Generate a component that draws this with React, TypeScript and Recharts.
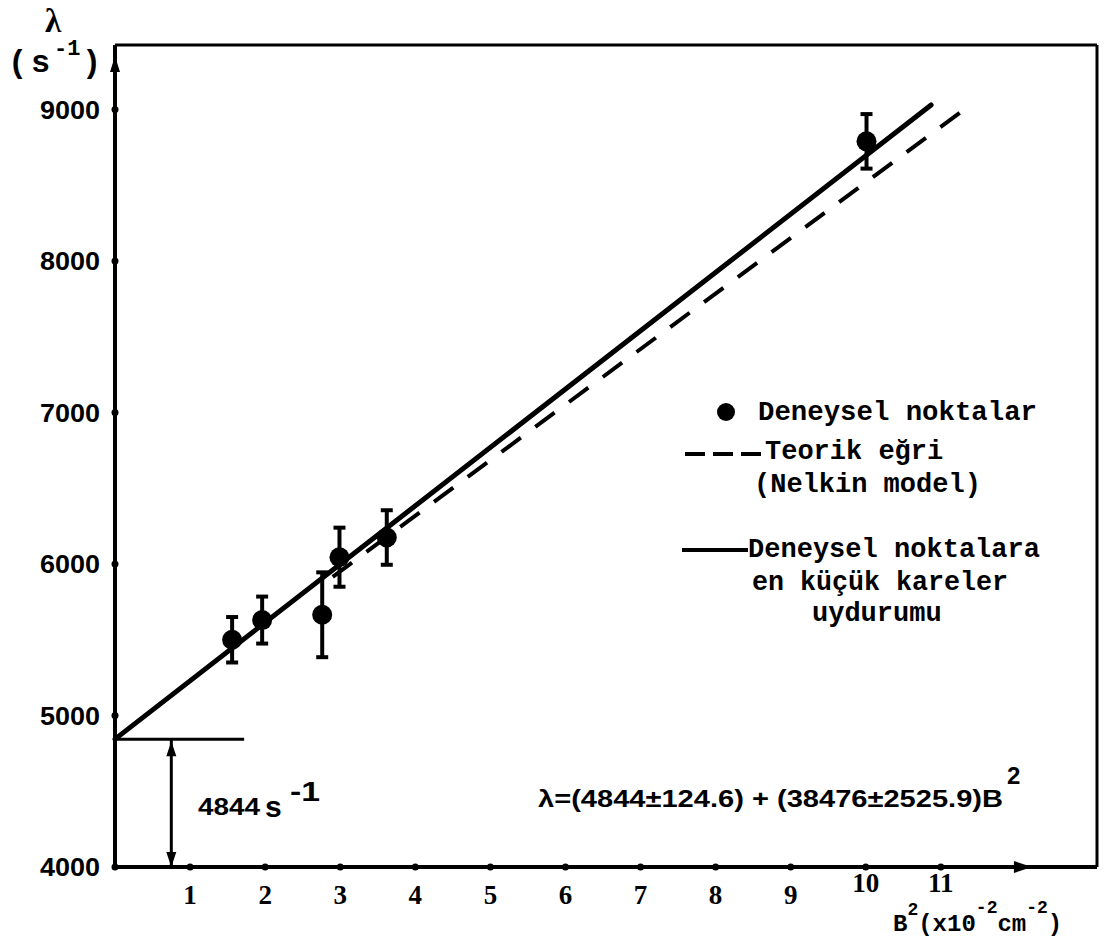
import { ComposedChart, XAxis, YAxis, Scatter, ErrorBar, ReferenceLine, ReferenceDot } from 'recharts';

// measured points: B^2 (x10^-2 cm^-2) vs decay constant lambda (s^-1)
const b2 = [1.56, 1.96, 2.76, 2.99, 3.62, 10.01];
const lambda = [5500, 5630, 5665, 6045, 6175, 8790];
const lambdaErr = [150, 155, 280, 195, 180, 180];

const xTicks = [1, 2, 3, 4, 5, 6, 7, 8, 9, 10, 11];
const yTicks = [4000, 5000, 6000, 7000, 8000, 9000];

// least squares fit and Nelkin model (end points)
const fitLine = [{ x: 0, y: 4844 }, { x: 10.87, y: 9030 }];
const theoryLine = [{ x: 2.9, y: 5915 }, { x: 11.27, y: 8985 }];

const intercept = 4844;
const interceptBarEnd = 1.72;
const interceptArrowX = 0.75;

const X_MAX = 13.08;
const Y_MIN = 4000;
const Y_MAX = 9426;
const Y_ARROW = 9294;
const X_ARROW = 12.08;

const points = b2.map((x, i) => ({ x, y: lambda[i], err: lambdaErr[i] }));

const mono = '"Liberation Mono", "DejaVu Sans Mono", monospace';
const sans = '"Liberation Sans", Arial, sans-serif';
const serif = '"Liberation Serif", "DejaVu Serif", serif';

const XTick = ({ x, y, payload }: any) => {
  const high = payload.value >= 10;
  return (
    <g>
      <circle cx={x} cy={y} r={3.5} fill="#000" />
      <text x={x} y={y + (high ? 25 : 37)} textAnchor="middle" fontFamily={serif} fontWeight="bold" fontSize={27} fill="#000">
        {payload.value}
      </text>
    </g>
  );
};

const YTick = ({ x, y, payload }: any) => (
  <g>
    <circle cx={x} cy={y} r={3.5} fill="#000" />
    <text x={x - 75} y={y + 9} fontFamily={sans} fontWeight="bold" fontSize={26} fill="#000" textLength={60} lengthAdjust="spacingAndGlyphs">
      {payload.value}
    </text>
  </g>
);

const arrowUp = (p: any) => <path d={`M${p.cx},${p.cy - 9} L${p.cx - 5},${p.cy + 7} L${p.cx + 5},${p.cy + 7} Z`} fill="#000" />;
const arrowDown = (p: any) => <path d={`M${p.cx},${p.cy} L${p.cx - 5},${p.cy - 15} L${p.cx + 5},${p.cy - 15} Z`} fill="#000" />;
const arrowUpFromLine = (p: any) => <path d={`M${p.cx},${p.cy + 2} L${p.cx - 5},${p.cy + 17} L${p.cx + 5},${p.cy + 17} Z`} fill="#000" />;
const arrowRight = (p: any) => <path d={`M${p.cx + 10},${p.cy} L${p.cx - 8},${p.cy - 6} L${p.cx - 8},${p.cy + 6} Z`} fill="#000" />;

function Annotations() {
  const t = { fontFamily: mono, fontWeight: 'bold' as const, fill: '#000' };
  return (
    <svg width={1105} height={939} style={{ position: 'absolute', left: 0, top: 0, pointerEvents: 'none' }}>
      {/* y axis title */}
      <text x={45} y={32} fontFamily={serif} fontWeight="bold" fontSize={33} fill="#000">λ</text>
      <text x={8} y={72} fontSize={32} {...t}>(</text>
      <text x={31} y={72} fontSize={32} {...t}>s</text>
      <text x={54} y={55} fontSize={22} {...t}>-1</text>
      <text x={82} y={72} fontSize={32} {...t}>)</text>

      {/* x axis title */}
      <text x={893} y={931} fontSize={24} {...t}>
        B<tspan dy={-16} fontSize={18}>2</tspan>
        <tspan dy={16}>(x10</tspan>
        <tspan dy={-18} fontSize={18}>-2</tspan>
        <tspan dy={18}>cm</tspan>
        <tspan dy={-18} fontSize={18}>-2</tspan>
        <tspan dy={18}>)</tspan>
      </text>

      {/* intercept label */}
      <text x={198} y={815} fontFamily={sans} fontWeight="bold" fontSize={24} fill="#000" textLength={62} lengthAdjust="spacingAndGlyphs">4844</text>
      <text x={265} y={817} fontFamily={sans} fontWeight="bold" fontSize={30} fill="#000">s</text>
      <text x={290} y={801} fontFamily={sans} fontWeight="bold" fontSize={28} fill="#000" textLength={30} lengthAdjust="spacingAndGlyphs">-1</text>

      {/* fit equation */}
      <text x={538} y={807} fontFamily={sans} fontWeight="bold" fontSize={24} fill="#000" textLength={465} lengthAdjust="spacingAndGlyphs">
        λ=(4844±124.6) + (38476±2525.9)B
      </text>
      <text x={1007} y={784} fontFamily={sans} fontWeight="bold" fontSize={24} fill="#000">2</text>

      {/* legend */}
      <circle cx={726} cy={412} r={9} fill="#000" />
      <text x={758} y={420} fontSize={27} textLength={279} lengthAdjust="spacingAndGlyphs" {...t}>Deneysel noktalar</text>
      <line x1={685} y1={454} x2={761} y2={454} stroke="#000" strokeWidth={4} strokeDasharray="20 8" />
      <text x={765} y={459} fontSize={27} {...t}>Teorik eğri</text>
      <text x={754} y={492} fontSize={27} {...t}>(Nelkin model)</text>
      <line x1={682} y1={550} x2={748} y2={550} stroke="#000" strokeWidth={4} />
      <text x={748} y={557} fontSize={27} textLength={292} lengthAdjust="spacingAndGlyphs" {...t}>Deneysel noktalara</text>
      <text x={752} y={590} fontSize={27} textLength={256} lengthAdjust="spacingAndGlyphs" {...t}>en küçük kareler</text>
      <text x={812} y={621} fontSize={27} {...t}>uydurumu</text>
    </svg>
  );
}

export default function App() {
  return (
    <div style={{ position: 'absolute', left: 0, top: 0, width: 1105, height: 939, background: '#fff' }}>
      <ComposedChart width={1105} height={939} margin={{ top: 45, right: 8, bottom: 0, left: 0 }}>
        <XAxis
          type="number"
          dataKey="x"
          domain={[0, X_MAX]}
          ticks={xTicks}
          tick={<XTick />}
          tickSize={0}
          tickMargin={0}
          tickLine={false}
          axisLine={{ stroke: '#000', strokeWidth: 4 }}
          height={72}
          allowDataOverflow
        />
        <YAxis
          type="number"
          dataKey="y"
          domain={[Y_MIN, Y_MAX]}
          ticks={yTicks}
          tick={<YTick />}
          tickSize={0}
          tickMargin={0}
          tickLine={false}
          axisLine={{ stroke: '#000', strokeWidth: 4 }}
          width={115}
          allowDataOverflow
        />

        {/* frame */}
        <ReferenceLine y={Y_MAX} stroke="#000" strokeWidth={3} />
        <ReferenceLine x={X_MAX} stroke="#000" strokeWidth={3} />

        {/* axis arrows */}
        <ReferenceDot x={0} y={Y_ARROW} shape={arrowUp} ifOverflow="visible" />
        <ReferenceDot x={X_ARROW} y={Y_MIN} shape={arrowRight} ifOverflow="visible" />

        {/* intercept marker */}
        <ReferenceLine segment={[{ x: 0, y: intercept }, { x: interceptBarEnd, y: intercept }]} stroke="#000" strokeWidth={3} ifOverflow="visible" />
        <ReferenceLine segment={[{ x: interceptArrowX, y: intercept }, { x: interceptArrowX, y: Y_MIN }]} stroke="#000" strokeWidth={3} ifOverflow="visible" />
        <ReferenceDot x={interceptArrowX} y={intercept} shape={arrowUpFromLine} ifOverflow="visible" />
        <ReferenceDot x={interceptArrowX} y={Y_MIN} shape={arrowDown} ifOverflow="visible" />

        {/* lines */}
        <ReferenceLine segment={theoryLine} stroke="#000" strokeWidth={4} strokeDasharray="24 18" ifOverflow="visible" />
        <ReferenceLine segment={fitLine} stroke="#000" strokeWidth={5} strokeLinecap="round" ifOverflow="visible" />

        <Scatter
          data={points}
          dataKey="y"
          fill="#000"
          isAnimationActive={false}
          shape={(p: any) => <circle cx={p.cx} cy={p.cy} r={10} fill="#000" />}
        >
          <ErrorBar dataKey="err" direction="y" width={6} strokeWidth={4} stroke="#000" />
        </Scatter>
      </ComposedChart>
      <Annotations />
    </div>
  );
}
